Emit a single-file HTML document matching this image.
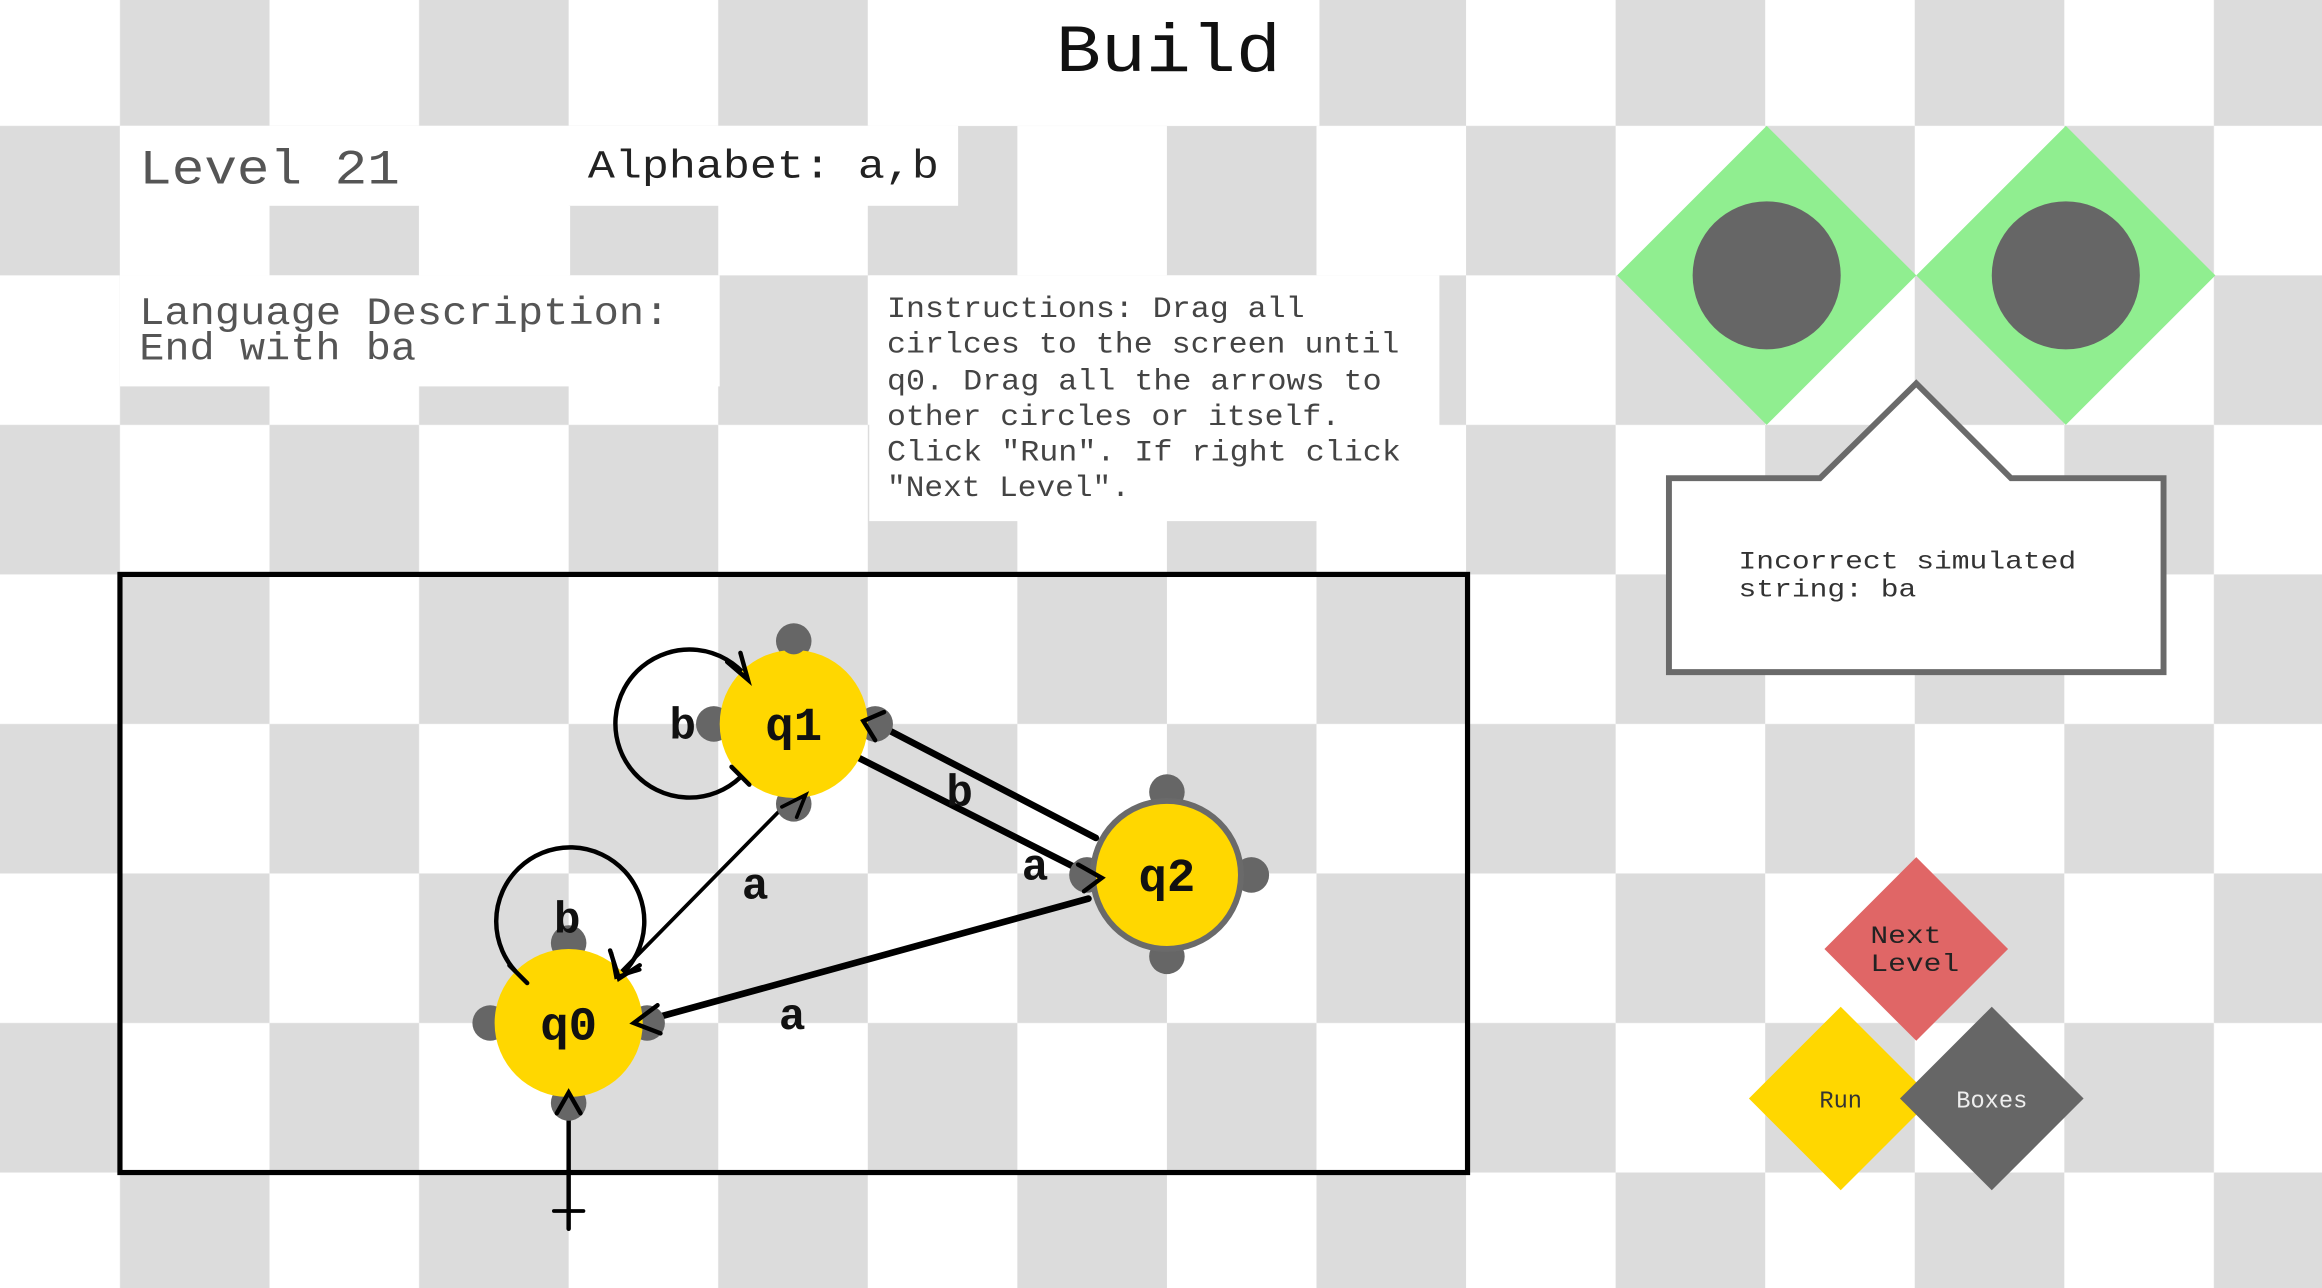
<!DOCTYPE html>
<html><head><meta charset="utf-8"><style>html,body{margin:0;padding:0;background:#fff;overflow:hidden}svg{display:block}</style></head>
<body>
<svg width="2322" height="1288" viewBox="0 0 1568 870" preserveAspectRatio="none" xmlns="http://www.w3.org/2000/svg" font-family="'Liberation Mono', monospace">
<defs>
<pattern id="chk" x="-20" y="-16" width="202" height="202" patternUnits="userSpaceOnUse">
<rect width="202" height="202" fill="#fff"/>
<rect x="101" y="0" width="101" height="101" fill="#dcdcdc"/>
<rect x="0" y="101" width="101" height="101" fill="#dcdcdc"/>
</pattern>
</defs>
<rect width="1568" height="870" fill="url(#chk)"/>
<!-- white panels -->
<rect x="587" y="0" width="304" height="85" fill="#fff"/>
<rect x="81" y="85" width="566" height="54" fill="#fff"/>
<rect x="81" y="139" width="101" height="47" fill="#fff"/>
<rect x="283" y="139" width="102" height="47" fill="#fff"/>
<rect x="81" y="186" width="405" height="75" fill="#fff"/>
<rect x="587" y="186" width="385" height="166" fill="#fff"/>

<text x="713" y="48" font-size="46" fill="#111" textLength="152" lengthAdjust="spacingAndGlyphs">Build</text>
<text x="94" y="124" font-size="33" fill="#555" textLength="176" lengthAdjust="spacingAndGlyphs">Level 21</text>
<text x="397" y="120" font-size="27" fill="#222" textLength="237" lengthAdjust="spacingAndGlyphs">Alphabet: a,b</text>
<text x="94" y="219" font-size="26" fill="#555" textLength="358" lengthAdjust="spacingAndGlyphs">Language Description:</text>
<text x="94" y="243" font-size="26" fill="#555" textLength="187" lengthAdjust="spacingAndGlyphs">End with ba</text>
<g font-size="20" fill="#444">
<text x="599" y="214" textLength="282" lengthAdjust="spacingAndGlyphs">Instructions: Drag all</text>
<text x="599" y="238" textLength="346" lengthAdjust="spacingAndGlyphs">cirlces to the screen until</text>
<text x="599" y="263" textLength="334" lengthAdjust="spacingAndGlyphs">q0. Drag all the arrows to</text>
<text x="599" y="287" textLength="306" lengthAdjust="spacingAndGlyphs">other circles or itself.</text>
<text x="599" y="311" textLength="347" lengthAdjust="spacingAndGlyphs">Click "Run". If right click</text>
<text x="599" y="335" textLength="164" lengthAdjust="spacingAndGlyphs">"Next Level".</text>
</g>

<!-- right side -->
<polygon points="1193,85 1294,186 1193,287 1092,186" fill="#90ee90"/>
<polygon points="1395,85 1496,186 1395,287 1294,186" fill="#90ee90"/>
<circle cx="1193" cy="186" r="50" fill="#666"/>
<circle cx="1395" cy="186" r="50" fill="#666"/>
<path d="M1127,323 L1229,323 L1294,259 L1358,323 L1461,323 L1461,454 L1127,454 Z" fill="#fff" stroke="#6a6a6a" stroke-width="4"/>
<text x="1174" y="384" font-size="17" fill="#333" textLength="228" lengthAdjust="spacingAndGlyphs">Incorrect simulated</text>
<text x="1174" y="403" font-size="17" fill="#333" textLength="120" lengthAdjust="spacingAndGlyphs">string: ba</text>

<polygon points="1294,579 1356,641 1294,703 1232,641" fill="#e06666"/>
<polygon points="1243,680 1305,742 1243,804 1181,742" fill="#ffd700"/>
<polygon points="1345,680 1407,742 1345,804 1283,742" fill="#666"/>
<text x="1263" y="637" font-size="17" fill="#222" textLength="48" lengthAdjust="spacingAndGlyphs">Next</text>
<text x="1263" y="656" font-size="17" fill="#222" textLength="60" lengthAdjust="spacingAndGlyphs">Level</text>
<text x="1243" y="748" font-size="16" fill="#333" text-anchor="middle">Run</text>
<text x="1345" y="748" font-size="16" fill="#eee" text-anchor="middle">Boxes</text>

<!-- diagram -->
<rect x="81" y="388" width="910" height="404" fill="none" stroke="#000" stroke-width="3.5"/>

<!-- edges -->
<g fill="none" stroke="#000" stroke-linecap="round">
<path d="M500,525 A50,50 0 1 1 505,458" stroke-width="3"/>
<path d="M350,658 A50,50 0 1 1 418,660" stroke-width="3"/>
<line x1="532" y1="542" x2="416" y2="660" stroke-width="2.5"/>
<line x1="592" y1="489" x2="740" y2="566" stroke-width="4.5"/>
<line x1="580" y1="512" x2="742" y2="594" stroke-width="4.5"/>
<line x1="735" y1="607" x2="430" y2="691" stroke-width="4.5"/>
<line x1="384" y1="830" x2="384" y2="737" stroke-width="3"/>
<line x1="374" y1="818" x2="394" y2="818" stroke-width="2.5"/>
</g>

<!-- nodes -->
<g fill="#666">
<circle cx="536" cy="433" r="12"/><circle cx="482" cy="489" r="12"/><circle cx="591" cy="489" r="12"/><circle cx="536" cy="543" r="12"/>
<circle cx="384" cy="637" r="12"/><circle cx="331" cy="691" r="12"/><circle cx="437" cy="691" r="12"/><circle cx="384" cy="745" r="12"/>
<circle cx="788" cy="535" r="12"/><circle cx="734" cy="591" r="12"/><circle cx="845" cy="591" r="12"/><circle cx="788" cy="646" r="12"/>
</g>
<circle cx="536" cy="489" r="50" fill="#ffd700"/>
<circle cx="384" cy="691" r="50" fill="#ffd700"/>
<circle cx="788" cy="591" r="50" fill="#ffd700" stroke="#6a6a6a" stroke-width="4"/>
<g fill="#666">
<circle cx="536" cy="433" r="9" clip-path="none"/>
</g>

<!-- arrowheads & marks -->
<g fill="none" stroke="#000" stroke-width="3" stroke-linecap="round">
<path d="M491,447 L505,459 L500,441"/>
<path d="M494,518 L506,530"/>
<path d="M344,652 L356,664"/>
<path d="M412,642 L418,661 L432,652"/>
<path d="M413,644 L416,660 L432,655" stroke-width="2.5"/>
<path d="M528,545 L544,537 L538,552" stroke-width="2.5"/>
<path d="M597,481 L583,487 L591,500"/>
<path d="M728,584 L744,593 L732,602"/>
<path d="M444,679 L428,691 L446,698"/>
<path d="M376,752 L384,738 L392,752"/>
</g>

<g font-family="'Liberation Mono', monospace" font-weight="bold" fill="#111">
<text x="536" y="500" font-size="32" text-anchor="middle">q1</text>
<text x="384" y="702" font-size="32" text-anchor="middle">q0</text>
<text x="788" y="602" font-size="32" text-anchor="middle">q2</text>
<text x="461" y="499" font-size="30" text-anchor="middle">b</text>
<text x="383" y="630" font-size="30" text-anchor="middle">b</text>
<text x="510" y="607" font-size="30" text-anchor="middle">a</text>
<text x="648" y="544" font-size="30" text-anchor="middle">b</text>
<text x="699" y="594" font-size="30" text-anchor="middle">a</text>
<text x="535" y="695" font-size="30" text-anchor="middle">a</text>
</g>
</svg>
</body></html>
